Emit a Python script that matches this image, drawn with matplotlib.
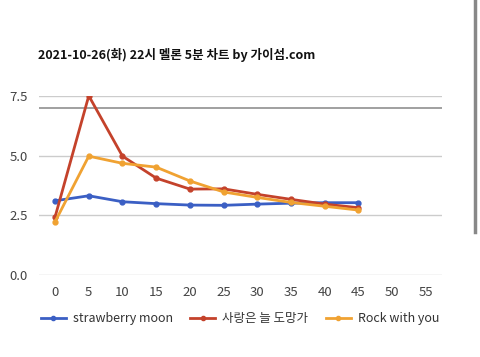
import matplotlib.pyplot as plt
from matplotlib.lines import Line2D

plt.rcParams['font.family'] = ['Noto Sans CJK KR', 'DejaVu Sans']

# 데이터
minutes = [0, 5, 10, 15, 20, 25, 30, 35, 40, 45]
strawberry = [3.11, 3.32, 3.07, 2.99, 2.93, 2.92, 2.97, 3.01, 3.03, 3.03]
always_run = [2.43, 7.51, 4.98, 4.06, 3.60, 3.61, 3.38, 3.17, 2.97, 2.82]
rock_with = [2.23, 4.98, 4.68, 4.52, 3.94, 3.48, 3.25, 3.04, 2.88, 2.72]
names = ['strawberry moon', '사랑은 늘 도망가', 'Rock with you']
colors = ['#3b5fc4', '#c4422b', '#f0a232']
xticks = [0, 5, 10, 15, 20, 25, 30, 35, 40, 45, 50, 55]
yticks = [0.0, 2.5, 5.0, 7.5]

fig = plt.figure(figsize=(4.8, 3.57), dpi=100)
ax = fig.add_axes([0.081, 0.2297, 0.84, 0.5013])

for ys, c in zip([strawberry, always_run, rock_with], colors):
    ax.plot(minutes, ys, color=c, lw=2, marker='o', ms=3.5, zorder=3)

for y in yticks:
    ax.axhline(y, color='#cccccc', lw=1, zorder=1)
ax.axhline(7.0, color='#999999', lw=1.3, zorder=1)

ax.set_xlim(-2.4, 57.4)
ax.set_ylim(0, 7.5)
ax.set_xticks(xticks)
ax.set_yticks(yticks)
ax.set_yticklabels(['%.1f' % v for v in yticks])
ax.tick_params(length=0, labelsize=9.5, colors='#444444', pad=8)
for s in ax.spines.values():
    s.set_visible(False)

fig.text(0.079, 0.845, '2021-10-26(화) 22시 멜론 5분 차트 by 가이섬.com',
         fontsize=9, fontweight='bold', color='#111111', va='center')

handles = [Line2D([0], [0], color=c, lw=2, marker='o', ms=3) for c in colors]
fig.legend(handles, names, loc='center', bbox_to_anchor=(0.5, 0.108), ncol=3,
           frameon=False, fontsize=9, handlelength=2.0, handletextpad=0.55,
           columnspacing=1.4, labelcolor='#333333')

fig.add_artist(Line2D([0.99, 0.99], [1.0, 0.35], color='#888888', lw=2.5))

fig.savefig('out.png', dpi=100, facecolor='white')
